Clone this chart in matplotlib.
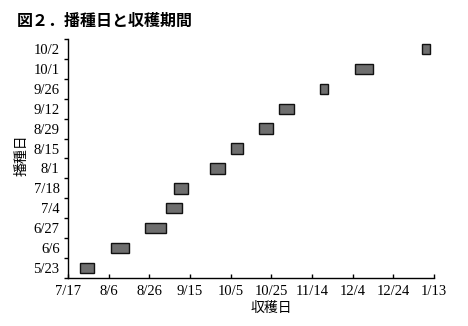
import datetime as dt
import matplotlib
matplotlib.use("Agg")
import matplotlib.pyplot as plt

# ---- data ----
sowing_dates = ["5/23", "6/6", "6/27", "7/4", "7/18", "8/1", "8/15",
                "8/29", "9/12", "9/26", "10/1", "10/2"]
harvest_start = ["7/23", "8/7", "8/24", "9/3", "9/7", "9/25", "10/5",
                 "10/19", "10/29", "11/18", "12/5", "1/7"]
harvest_end = ["7/30", "8/16", "9/3", "9/11", "9/14", "10/2", "10/11",
               "10/26", "11/5", "11/22", "12/14", "1/11"]
x_ticks = ["7/17", "8/6", "8/26", "9/15", "10/5", "10/25", "11/14",
           "12/4", "12/24", "1/13"]

BASE = dt.date(2000, 7, 17)


def to_day(s):
    m, d = map(int, s.split("/"))
    year = 2000 if m >= 7 else 2001
    return (dt.date(year, m, d) - BASE).days


starts = [to_day(s) for s in harvest_start]
widths = [to_day(e) - to_day(s) for s, e in zip(harvest_start, harvest_end)]
ypos = list(range(len(sowing_dates)))

W, H = 468, 326
fig = plt.figure(figsize=(W / 100, H / 100), dpi=100)
ax = fig.add_axes([68 / W, 1 - 278 / H, (434 - 68) / W, (278 - 39) / H])

ax.barh(ypos, widths, left=starts, height=0.52, color="#6e6e6e",
        edgecolor="#111111", linewidth=1.0)

tick_pos = [to_day(t) for t in x_ticks]
ax.set_xlim(tick_pos[0], tick_pos[-1])
ax.set_ylim(-0.5, len(sowing_dates) - 0.5)

serif = "Liberation Serif"
ax.set_xticks(tick_pos)
ax.set_xticklabels(x_ticks, fontfamily=serif, fontsize=10.5)
ax.set_yticks(ypos)
ax.set_yticklabels(sowing_dates, fontfamily=serif, fontsize=10.5)
ax.set_yticks([y - 0.5 for y in ypos] + [len(ypos) - 0.5], minor=True)

ax.tick_params(axis="y", which="major", length=0, pad=6)
ax.tick_params(axis="y", which="minor", length=3, width=1.0, direction="out")
ax.tick_params(axis="x", which="major", length=3, width=1.0, direction="in", pad=5)

for side in ("top", "right"):
    ax.spines[side].set_visible(False)
for side in ("left", "bottom"):
    ax.spines[side].set_linewidth(1.0)

cjk = ["Noto Sans CJK JP", "DejaVu Sans"]
ax.set_xlabel("収穫日", fontfamily=cjk, fontsize=10)
ax.xaxis.set_label_coords((271 - 68) / (434 - 68), -(308 - 278) / (278 - 39))
ax.xaxis.label.set_va("center")
ax.set_ylabel("播種日", fontfamily=cjk, fontsize=10)
ax.yaxis.set_label_coords(-(68 - 22) / (434 - 68), (278 - 155) / (278 - 39))
ax.yaxis.label.set_va("center")

fig.text(17 / W, 1 - 21 / H, "図２．播種日と収穫期間", fontfamily=cjk,
         fontsize=11.5, fontweight="bold", va="center", ha="left")

fig.savefig("out.png", dpi=100)
